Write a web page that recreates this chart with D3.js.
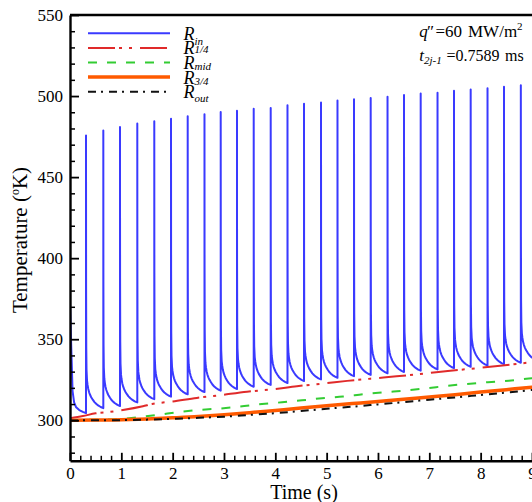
<!DOCTYPE html>
<html>
<head>
<meta charset="utf-8">
<script src="https://cdn.jsdelivr.net/npm/d3@7"></script>
<style>
  html, body { margin: 0; padding: 0; background: #fff; }
  svg { display: block; font-family: "Liberation Serif", "Times New Roman", serif; }
</style>
</head>
<body>
<svg id="chart" width="532" height="502"></svg>
<script>
// ---- R_in : periodic heating pulses ----
// time of each pulse (s)
const pulseTime = [0.312, 0.649, 0.974, 1.311, 1.642, 1.968, 2.293, 2.620, 2.936, 3.253,
                   3.579, 3.910, 4.237, 4.559, 4.890, 5.211, 5.533, 5.858, 6.186, 6.507,
                   6.832, 7.160, 7.481, 7.806, 8.134, 8.455, 8.783];
// peak temperature of each pulse (K)
const pulsePeak = [475.7, 478.8, 480.9, 483.0, 484.4, 486.0, 487.5, 488.7, 490.1, 491.0,
                   492.2, 492.7, 494.3, 495.3, 496.1, 497.3, 498.0, 498.8, 499.6, 500.6,
                   501.5, 502.1, 503.3, 504.1, 504.8, 505.8, 506.6];
// temperature just before each pulse (K)
const prePulseTemp = [304.4, 307.5, 308.8, 311.0, 313.0, 314.6, 316.0, 317.4, 318.3, 319.3,
                      320.7, 321.8, 323.0, 324.2, 325.2, 326.2, 327.2, 328.0, 329.0, 329.8,
                      330.6, 331.4, 332.2, 333.0, 333.8, 334.6, 335.5];
const endTime = 9.12, endTemp = 336.5;
// cool-down from the initial state before the first pulse
const startTime = [0, 0.02, 0.05, 0.08, 0.12, 0.18, 0.25];
const startTemp = [372, 350, 318, 311, 308, 306.3, 305.2];
// shape of one cool-down: phase within the period and remaining share of the peak excess
const decayPhase = [0, 0.005, 0.015, 0.03, 0.06, 0.09, 0.13, 0.18, 0.24, 0.3, 0.4, 0.49, 0.6, 0.7, 0.85, 1];
const decayShare = [1, 0.45, 0.22, 0.14, 0.10, 0.085, 0.07, 0.058, 0.048, 0.04, 0.03, 0.022, 0.015, 0.01, 0.004, 0];

// ---- R_1/4 ----
const quarterTime = [0, 0.25, 0.5, 0.78, 1.03, 1.42, 1.6, 2.0, 2.47, 2.9, 3.45, 3.95, 4.42,
                     4.97, 5.4, 5.9, 6.36, 6.95, 7.36, 7.95, 8.38, 8.94, 9.12];
const quarterTemp = [301.2, 302.6, 304.3, 305.2, 306.3, 308.6, 310.0, 311.6, 313.8, 315.4, 317.6,
                     319.1, 321.0, 322.8, 324.3, 325.8, 327.1, 329.0, 330.4, 332.2, 333.6, 335.6, 336.2];
// ---- R_mid ----
const midTime = [0, 0.58, 0.92, 1.32, 1.71, 2.1, 2.51, 2.86, 3.31, 3.74, 4.13, 4.52, 4.91,
                 5.32, 5.75, 6.14, 6.57, 6.96, 7.34, 7.73, 8.14, 8.55, 8.94, 9.12];
const midTemp = [300.0, 300.4, 300.6, 301.9, 303.3, 305.0, 306.4, 307.1, 308.4, 310.0, 311.1,
                 312.3, 313.6, 314.6, 316.2, 317.3, 318.5, 319.8, 321.2, 322.4, 323.5, 324.4, 325.7, 326.2];
// ---- R_3/4 and R_out ----
const outerTime = [0, 0.5, 1, 1.5, 2, 2.5, 3, 3.5, 4, 4.5, 5, 5.5, 6, 6.5, 7, 7.5, 8, 8.5, 9, 9.12];
const threeQuarterTemp = [300.0, 300.1, 300.3, 300.8, 301.5, 302.3, 303.4, 304.7, 306.1, 307.5,
                          309.0, 310.3, 311.6, 313.0, 314.4, 315.8, 317.4, 318.9, 320.4, 320.8];
const outTemp = [299.9, 300.0, 300.1, 300.4, 300.9, 301.5, 302.2, 303.3, 304.4, 305.7,
                 307.1, 308.4, 309.8, 311.2, 312.7, 314.1, 315.6, 317.1, 318.7, 319.1];

// ---- axis ticks ----
const xMajorTicks = [0, 1, 2, 3, 4, 5, 6, 7, 8, 9];
const yMajorTicks = [300, 350, 400, 450, 500, 550];

const svg = d3.select("#chart");
const plotLeft = 70, plotTop = 15, plotBottom = 460.8;
const x = d3.scaleLinear().domain([0, endTime]).range([plotLeft, plotLeft + endTime * 51.33]);
const y = d3.scaleLinear().domain([275, 550]).range([plotBottom, plotTop]);
const plotRight = x(endTime);

svg.append("defs").append("clipPath").attr("id", "plot-clip")
  .append("rect").attr("x", plotLeft).attr("y", plotTop)
  .attr("width", plotRight - plotLeft).attr("height", plotBottom - plotTop);

// assemble the pulsed inner-wall temperature
const inner = startTime.map((t, i) => ({ t, v: startTemp[i] }));
pulseTime.forEach((tk, k) => {
  const peak = pulsePeak[k];
  const tn = k < pulseTime.length - 1 ? pulseTime[k + 1] : endTime;
  const vn = k < pulseTime.length - 1 ? prePulseTemp[k + 1] : endTemp;
  inner.push({ t: tk, v: prePulseTemp[k] });
  inner.push({ t: tk, v: peak });
  for (let j = 1; j < decayPhase.length; j++) {
    inner.push({ t: tk + decayPhase[j] * (tn - tk), v: vn + (peak - vn) * decayShare[j] });
  }
});

const series = [
  { key: "in",  label: "in",  pos: "sub",  color: "#3a3aff", width: 2,   dash: null,
    pts: inner, curve: d3.curveLinear },
  { key: "q1",  label: "1/4", pos: "sup",  color: "#e02a2a", width: 2,   dash: "27,4,3,7,3,8",
    pts: quarterTime.map((t, i) => ({ t, v: quarterTemp[i] })), curve: d3.curveMonotoneX },
  { key: "mid", label: "mid", pos: "sup",  color: "#33cc33", width: 2,   dash: "9,10",
    pts: midTime.map((t, i) => ({ t, v: midTemp[i] })), curve: d3.curveMonotoneX },
  { key: "q3",  label: "3/4", pos: "sup",  color: "#ff5a00", width: 3.5, dash: null,
    pts: outerTime.map((t, i) => ({ t, v: threeQuarterTemp[i] })), curve: d3.curveMonotoneX },
  { key: "out", label: "out", pos: "sub",  color: "#111",    width: 2,   dash: "8,5,2,6",
    pts: outerTime.map((t, i) => ({ t, v: outTemp[i] })), curve: d3.curveMonotoneX }
];

const plot = svg.append("g").attr("clip-path", "url(#plot-clip)");
series.forEach(s => {
  const line = d3.line().x(d => x(d.t)).y(d => y(d.v)).curve(s.curve);
  plot.append("path").datum(s.pts)
    .attr("d", line)
    .attr("fill", "none")
    .attr("stroke", s.color)
    .attr("stroke-width", s.width)
    .attr("stroke-linejoin", "round")
    .attr("stroke-dasharray", s.dash);
});

// ---- axes (ticks point inward) ----
const xMinor = d3.range(0, 46).map(i => i * 0.2).filter(v => Math.abs(v - Math.round(v)) > 1e-6);
const yMinor = d3.range(280, 550, 10).filter(v => v % 50 !== 0);

svg.append("g").attr("transform", `translate(0,${plotBottom})`)
  .call(d3.axisBottom(x).tickValues(xMinor).tickSize(-5).tickSizeOuter(0).tickFormat(""))
  .call(g => g.select(".domain").remove())
  .call(g => g.selectAll("line").attr("stroke-width", 1.5));
const xAxis = svg.append("g").attr("transform", `translate(0,${plotBottom})`)
  .attr("font-family", "Liberation Serif, serif")
  .call(d3.axisBottom(x).tickValues(xMajorTicks).tickSize(-8).tickSizeOuter(0).tickPadding(6)
    .tickFormat(d3.format("d")));
xAxis.attr("font-family", "Liberation Serif, serif");
xAxis.selectAll("line").attr("stroke-width", 1.8);
xAxis.select(".domain").attr("stroke-width", 2.4);
xAxis.selectAll("text").attr("font-size", 17).attr("fill", "#000");

svg.append("g").attr("transform", `translate(${plotLeft},0)`)
  .call(d3.axisLeft(y).tickValues(yMinor).tickSize(-5).tickSizeOuter(0).tickFormat(""))
  .call(g => g.select(".domain").remove())
  .call(g => g.selectAll("line").attr("stroke-width", 1.5));
const yAxis = svg.append("g").attr("transform", `translate(${plotLeft},0)`)
  .call(d3.axisLeft(y).tickValues(yMajorTicks).tickSize(-9).tickSizeOuter(0).tickPadding(7)
    .tickFormat(d3.format("d")));
yAxis.attr("font-family", "Liberation Serif, serif");
yAxis.selectAll("line").attr("stroke-width", 1.8);
yAxis.select(".domain").attr("stroke-width", 2.4);
yAxis.selectAll("text").attr("font-size", 17).attr("fill", "#000");

// top frame
svg.append("line").attr("x1", plotLeft).attr("x2", plotRight).attr("y1", y(550)).attr("y2", y(550))
  .attr("stroke", "#000").attr("stroke-width", 2.4);

// axis titles
svg.append("text").attr("x", 304).attr("y", 499).attr("text-anchor", "middle")
  .attr("font-size", 20).text("Time (s)");
const yt = svg.append("text").attr("transform", "translate(26.5,240) rotate(-90)")
  .attr("text-anchor", "middle").attr("font-size", 21);
yt.append("tspan").text("Temperature (");
yt.append("tspan").attr("font-size", 12).attr("dy", -8).text("o");
yt.append("tspan").attr("dy", 8).text("K)");

// ---- legend ----
const legend = svg.append("g");
series.forEach((s, i) => {
  const ly = 33.3 + i * 14.6;
  legend.append("line").attr("x1", 88).attr("x2", 170).attr("y1", ly).attr("y2", ly)
    .attr("stroke", s.color).attr("stroke-width", s.width)
    .attr("stroke-dasharray", s.dash);
  const t = legend.append("text").attr("x", 183.5).attr("y", ly + 6.5)
    .attr("font-style", "italic").attr("font-size", 18);
  t.append("tspan").text("R");
  t.append("tspan").attr("font-size", 11)
    .attr("dy", s.pos === "sub" ? (i === 0 ? 5.5 : 3.5) : (i === 1 ? -1 : 1))
    .text(s.label);
});

// ---- heat flux / pulse annotation ----
const note1 = svg.append("text").attr("y", 37.3).attr("font-size", 17);
note1.append("tspan").attr("x", 419.3).attr("font-style", "italic").text("q");
note1.append("tspan").attr("x", 427).text("\u2033");
note1.append("tspan").attr("x", 435.5).text("=60");
note1.append("tspan").attr("x", 468).text("MW/m");
note1.append("tspan").attr("font-size", 11).attr("dy", -7).text("2");
const note2 = svg.append("text").attr("y", 60.7).attr("font-size", 16);
note2.append("tspan").attr("x", 419.3).attr("font-style", "italic").attr("font-size", 17).text("t");
note2.append("tspan").attr("font-style", "italic").attr("font-size", 11).attr("dy", 3.5).text("2j-1");
note2.append("tspan").attr("x", 446.5).attr("dy", -3.5).text("=0.7589");
note2.append("tspan").attr("x", 505).text("ms");
</script>
</body>
</html>
